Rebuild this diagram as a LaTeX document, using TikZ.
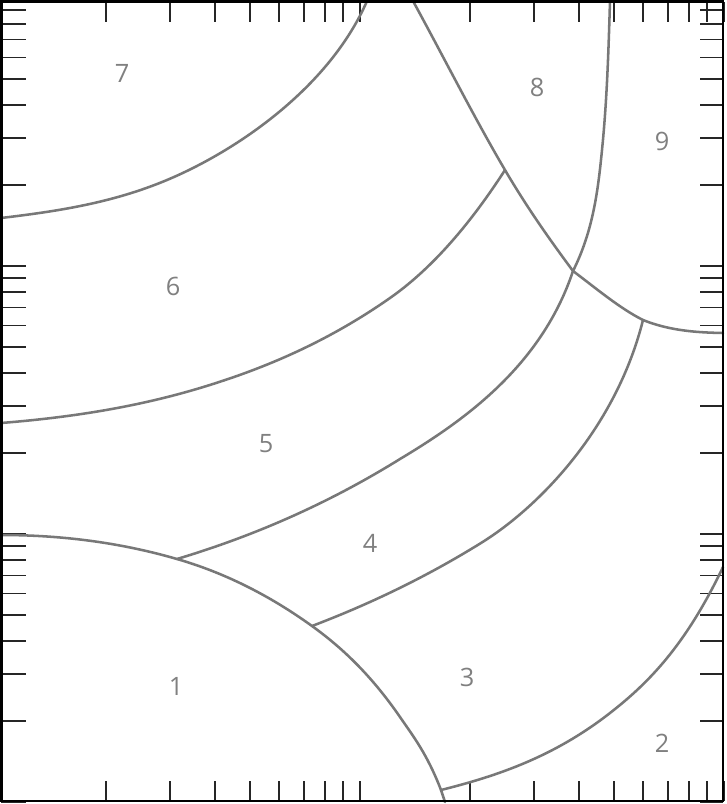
\documentclass[tikz,border=0pt]{standalone}
\usepackage{fontspec}
\setmainfont{Open Sans}
\definecolor{curvegray}{RGB}{120,120,120}
\definecolor{labgray}{RGB}{128,128,128}
\begin{document}
\begin{tikzpicture}[x=0.75pt,y=-0.75pt,
  curve/.style={draw=curvegray,line width=1.9pt,line join=round,line cap=round},
  tick/.style={draw=black!85,line width=1.4pt},
  frame/.style={draw=black,line width=2.2pt},
  lab/.style={text=labgray,font=\fontsize{19}{20}\selectfont,inner sep=0pt}]
\useasboundingbox (0,0) rectangle (726,804);
\fill[white] (0,0) rectangle (726,804);
% ticks, horizontal log axis (2 decades)
\foreach \d in {0,1}{
  \foreach \k in {2,...,10}{
    \pgfmathsetmacro\xx{-4+364*(\d+ln(\k)/ln(10))}
    \draw[tick] (\xx,2) -- (\xx,22);
    \draw[tick] (\xx,801) -- (\xx,781);
  }
}
% ticks, vertical log axis (3 decades)
\foreach \d in {0,1,2}{
  \foreach \k in {1,...,9}{
    \pgfmathsetmacro\yy{802-268*(\d+ln(\k)/ln(10))}
    \draw[tick] (1,\yy) -- (26,\yy);
    \draw[tick] (723,\yy) -- (700,\yy);
  }
}
% junctions
\coordinate (J1) at (177,559);
\coordinate (J2) at (312,626);
\coordinate (J3) at (441,790);
\coordinate (J4) at (505,170);
\coordinate (J5) at (573,271);
\coordinate (J6) at (643,320);
% curves
\draw[curve] (1,218) .. controls (56.3,211.4) and (111.7,203.2) .. (167,180)
  .. controls (236.1,151) and (329.1,88.1) .. (367,1);
\draw[curve] (1,423) .. controls (67.3,417.7) and (133.7,407.9) .. (200,388)
  .. controls (263.3,369) and (326.7,342.3) .. (390,298)
  .. controls (428.3,271.2) and (466.7,229.4) .. (J4);
\draw[curve] (413,1) .. controls (443.7,57.1) and (474.3,117.8) .. (J4)
  .. controls (527.7,208.6) and (550.3,240.4) .. (J5);
\draw[curve] (J5) .. controls (596.3,288.5) and (619.7,308.3) .. (J6)
  .. controls (669.7,330.7) and (696.3,332.5) .. (723,333);
\draw[curve] (610,1) .. controls (608.5,50.7) and (607,100.3) .. (602,150)
  .. controls (598,190.3) and (593.2,230.7) .. (J5);
\draw[curve] (J1) .. controls (251.3,536.7) and (325.7,505.1) .. (400,459)
  .. controls (464.3,420.5) and (541.4,365.9) .. (J5);
\draw[curve] (J2) .. controls (368.3,604.6) and (424.7,577.9) .. (481,543)
  .. controls (540.5,506.1) and (616.3,426.7) .. (J6);
\draw[curve] (1,535) .. controls (59.7,535) and (118.3,542) .. (J1)
  .. controls (222,572) and (267,593.6) .. (J2)
  .. controls (341.3,647.1) and (370.7,674.5) .. (400,717)
  .. controls (413.7,736.9) and (427.3,754.4) .. (J3)
  -- (445,802);
\draw[curve] (J3) .. controls (497.3,775.9) and (553.7,756.9) .. (610,713)
  .. controls (647.7,683.6) and (685.3,646.2) .. (723,567);
% frame
\draw[frame] (1.5,1.5) rectangle (723,801);
% labels
\node[lab] (l7) at (122,73) {7};
\node[lab] (l8) at (537,87) {8};
\node[lab] (l9) at (662,141) {9};
\node[lab] (l6) at (173,286) {6};
\node[lab] (l5) at (266,444) {5};
\node[lab] (l4) at (370,543) {4};
\node[lab] (l3) at (467,677) {3};
\node[lab] (l1) at (176,686) {1};
\node[lab] (l2) at (662,743) {2};
\end{tikzpicture}
\end{document}
